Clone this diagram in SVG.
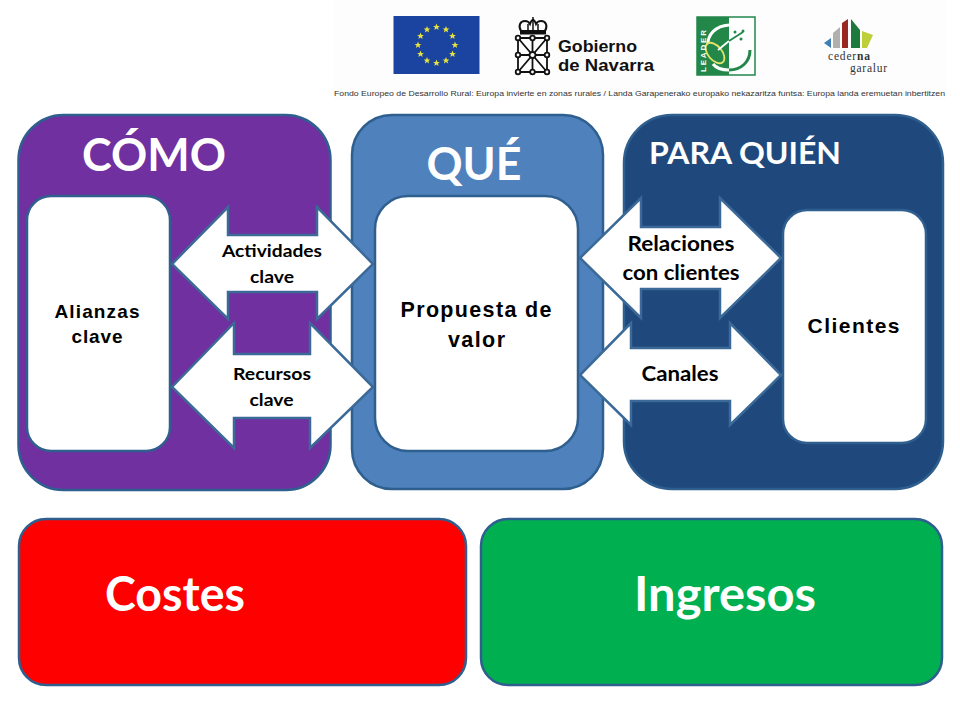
<svg xmlns="http://www.w3.org/2000/svg" width="960" height="720" viewBox="0 0 960 720">
<style>
.panel{stroke:#2f5f8f;stroke-width:2.5}
.inner{fill:#fff;stroke:#2f5f8f;stroke-width:2.5}
.arrow{fill:#fff;stroke:#3c6a98;stroke-width:2.5;stroke-linejoin:miter}
.cal{font-family:"Lato","Open Sans",sans-serif;font-weight:700;text-anchor:middle}
.ari{font-family:"Liberation Sans",Arial,sans-serif;font-weight:700;text-anchor:middle;fill:#000}
.w{fill:#fff}
.k{fill:#000}
.nav{font-family:"Liberation Sans",Arial,sans-serif;font-size:16.500px;fill:#111;font-weight:700}
.ced{font-family:"Liberation Serif",serif;font-size:11.500px;fill:#333;text-anchor:middle}
</style>
<defs><polygon id="s" points="0,-3.4 1,-1 3.4,-1 1.5,.5 2.1,3 0,1.5 -2.1,3 -1.5,.5 -3.4,-1 -1,-1" fill="#e6e23a"/></defs>
<rect width="960" height="720" fill="#fff"/>
<g id="logos">
<rect x="334" y="0" width="612" height="100" fill="#fdfdfd"/>
<g id="logo-eu">
<rect x="393.500" y="16" width="86" height="58" fill="#1a44a0"/>
<use href="#s" x="418" y="45"/><use href="#s" x="420.500" y="36"/><use href="#s" x="427" y="29.500"/><use href="#s" x="436.500" y="27"/><use href="#s" x="446" y="29.500"/><use href="#s" x="452.500" y="36"/><use href="#s" x="455" y="45"/><use href="#s" x="452.500" y="54"/><use href="#s" x="446" y="60.500"/><use href="#s" x="436.500" y="63"/><use href="#s" x="427" y="60.500"/><use href="#s" x="420.500" y="54"/>
</g>
<g id="logo-navarra">
<g fill="none" stroke="#111" stroke-width="2">
<path d="M521 31c-3-5-1-10 4-10 2 0 4 1 5 3 1-3 2-4 3-4s2 1 3 4c1-2 3-3 5-3 5 0 7 5 4 10z"/>
<path d="M528 31v-7M538 31v-7M533 31V17" stroke-width="1.500"/>
<rect x="521" y="31" width="24" height="2.500" fill="#111"/>
<path d="M518 38H547V72H518Z" stroke-width="1.800"/>
<path d="M518 38L547 72M547 38L518 72M532.500 38V72M518 55H547" stroke-width="1.800"/>
<g fill="#fff" stroke-width="1.800">
<circle cx="518" cy="38" r="2.300"/><circle cx="547" cy="38" r="2.300"/><circle cx="518" cy="72" r="2.300"/><circle cx="547" cy="72" r="2.300"/><circle cx="532.500" cy="38" r="2.300"/><circle cx="532.500" cy="72" r="2.300"/><circle cx="518" cy="55" r="2.300"/><circle cx="547" cy="55" r="2.300"/><circle cx="532.500" cy="55" r="3"/>
</g>
</g>
<text class="nav" x="558" y="52" textLength="79" lengthAdjust="spacingAndGlyphs">Gobierno</text>
<text class="nav" x="558" y="71" textLength="96" lengthAdjust="spacingAndGlyphs">de Navarra</text>
</g>
<g id="logo-leader">
<rect x="697" y="17" width="58" height="58" fill="#fff" stroke="#23874a" stroke-width="1.500"/>
<rect x="697" y="17" width="32" height="58" fill="#23874a"/>
<path d="M708 46C707 34 716 26 729 25" fill="none" stroke="#fff" stroke-width="3"/>
<path d="M729 70C741 70 750 62 750 50" fill="none" stroke="#23874a" stroke-width="3"/>
<path d="M729 70C722 70 716 68 713 64" fill="none" stroke="#fff" stroke-width="3"/>
<ellipse cx="715" cy="53" rx="7" ry="12" transform="rotate(-40 715 53)" fill="#23874a" stroke="#e3e56a" stroke-width="1.800"/>
<path d="M718 50L729 41" stroke="#fff" stroke-width="1.800"/>
<path d="M729 41L743 32" stroke="#23874a" stroke-width="1.800"/>
<circle cx="735" cy="32" r="1.500" fill="#23874a"/><circle cx="741" cy="39" r="1.500" fill="#23874a"/><circle cx="743" cy="31" r="1.500" fill="#23874a"/>
<text transform="translate(705.500 72) rotate(-90)" font-family="Liberation Sans,sans-serif" font-size="8" font-weight="700" fill="#fff" textLength="42">LEADER</text>
</g>
<g id="logo-cederna">
<polygon points="824,43 831,38 831,48" fill="#3f7fb5"/>
<polygon points="833,48 833,33 840,27 840,48" fill="#b0b0ae"/>
<polygon points="842,48 842,23 848,19 848,48" fill="#962a22"/>
<polygon points="851,48 851,19 860,30 860,48" fill="#1e7a3c"/>
<polygon points="862,48 862,31 873,35 867,48" fill="#bfcf3a"/>
<text class="ced" x="849" y="60" textLength="42">ceder<tspan font-weight="700">na</tspan></text>
<text class="ced" x="868.500" y="72" textLength="37">garalur</text>
</g>
<text x="334" y="96" font-family="Liberation Sans,Arial,sans-serif" font-size="7.200" fill="#333" textLength="611" lengthAdjust="spacingAndGlyphs">Fondo Europeo de Desarrollo Rural: Europa invierte en zonas rurales / Landa Garapenerako europako nekazaritza funtsa: Europa landa eremuetan inbertitzen</text>
</g>
<g id="panel-como"><rect class="panel" x="18.500" y="115" width="312" height="375" rx="45" fill="#7030a0"/><text class="cal w" x="154" y="171" font-size="46" textLength="144" lengthAdjust="spacingAndGlyphs">CÓMO</text></g>
<g id="panel-que"><rect class="panel" x="352" y="115" width="251" height="374" rx="40" fill="#4f81bd"/><text class="cal w" x="474" y="180" font-size="46" textLength="95" lengthAdjust="spacingAndGlyphs">QUÉ</text></g>
<g id="panel-quien"><rect class="panel" x="624" y="115" width="319" height="374" rx="48" fill="#1f497d"/><text class="cal w" x="745" y="164" font-size="31" textLength="192" lengthAdjust="spacingAndGlyphs">PARA QUIÉN</text></g>
<g id="costes"><rect class="panel" x="19" y="519" width="447" height="166" rx="27" fill="#ff0000"/><text class="cal w" x="175" y="611" font-size="47" textLength="140" lengthAdjust="spacingAndGlyphs">Costes</text></g>
<g id="ingresos"><rect class="panel" x="481" y="519" width="461" height="166" rx="27" fill="#00b050"/><text class="cal w" x="725" y="611" font-size="47" textLength="182" lengthAdjust="spacingAndGlyphs">Ingresos</text></g>
<g id="alianzas"><rect class="inner" x="27" y="196" width="143" height="255" rx="24"/><text class="ari" x="97" y="318" font-size="19" textLength="85">Alianzas</text><text class="ari" x="97" y="343" font-size="19" textLength="51">clave</text></g>
<g id="propuesta"><rect class="inner" x="375" y="196" width="203" height="255" rx="33"/><text class="ari" x="476" y="317" font-size="21.500" textLength="151">Propuesta de</text><text class="ari" x="476.500" y="347" font-size="21.500" textLength="57">valor</text></g>
<g id="clientes"><rect class="inner" x="783" y="210" width="143" height="233" rx="24"/><text class="ari" x="853.500" y="333" font-size="21" textLength="92">Clientes</text></g>
<g id="connectors">
<polygon id="a-actividades" class="arrow" points="172,264 228,207 228,235 317,235 317,207 373,264 317,319 317,292 228,292 228,319"/>
<polygon id="a-recursos" class="arrow" points="172,387 234,323 234,354 310,354 310,323 373,387 310,448 310,418 234,418 234,448"/>
<polygon id="a-relaciones" class="arrow" points="580,258 641,198 641,227 720,227 720,198 781,258 720,318 720,289 641,289 641,318"/>
<polygon id="a-canales" class="arrow" points="580,375 631,323 631,348 730,348 730,323 781,375 730,425 730,401 631,401 631,425"/>
</g>
<g id="arrow-labels">
<text class="cal k" x="272" y="257" font-size="17.500" textLength="100" lengthAdjust="spacingAndGlyphs">Actividades</text><text class="cal k" x="272" y="283" font-size="17.500" textLength="44" lengthAdjust="spacingAndGlyphs">clave</text>
<text class="cal k" x="272" y="380" font-size="17.500" textLength="78" lengthAdjust="spacingAndGlyphs">Recursos</text><text class="cal k" x="271.500" y="406" font-size="17.500" textLength="44" lengthAdjust="spacingAndGlyphs">clave</text>
<text class="cal k" x="681" y="251" font-size="20.500" textLength="107" lengthAdjust="spacingAndGlyphs">Relaciones</text><text class="cal k" x="681" y="280" font-size="20.500" textLength="117" lengthAdjust="spacingAndGlyphs">con clientes</text>
<text class="cal k" x="680" y="381" font-size="20.500" textLength="77" lengthAdjust="spacingAndGlyphs">Canales</text>
</g>
</svg>
